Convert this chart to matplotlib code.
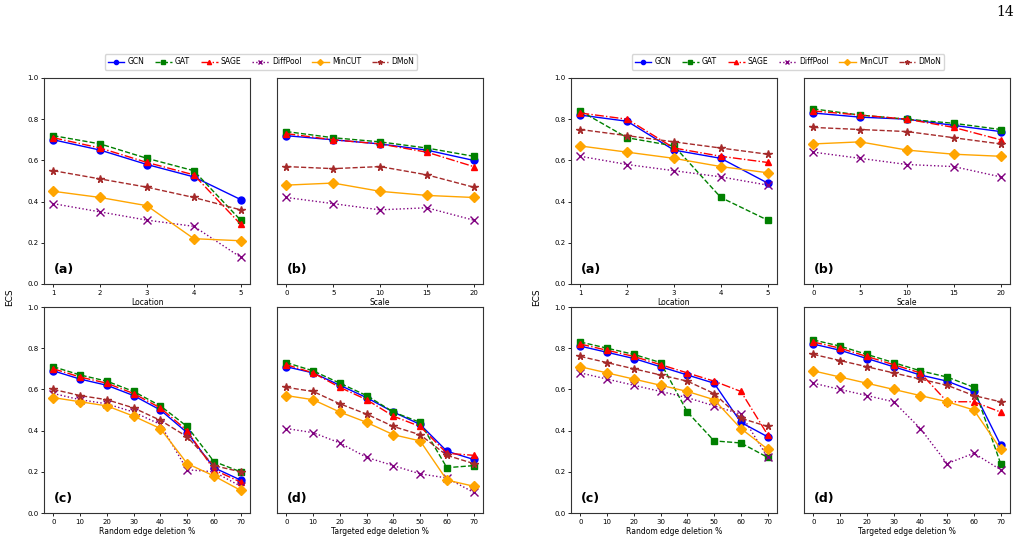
import matplotlib
matplotlib.use("Agg")
import matplotlib.pyplot as plt

# x values of each panel
X_LOC = [1, 2, 3, 4, 5]
X_SCALE = [0, 5, 10, 15, 20]
X_DEL = [0, 10, 20, 30, 40, 50, 60, 70]

# ---- left group ----
L_A_GCN = [0.70, 0.65, 0.58, 0.52, 0.41]
L_A_GAT = [0.72, 0.68, 0.61, 0.55, 0.31]
L_A_SAGE = [0.71, 0.66, 0.59, 0.53, 0.29]
L_A_DIFF = [0.39, 0.35, 0.31, 0.28, 0.13]
L_A_MINCUT = [0.45, 0.42, 0.38, 0.22, 0.21]
L_A_DMON = [0.55, 0.51, 0.47, 0.42, 0.36]

L_B_GCN = [0.72, 0.70, 0.68, 0.65, 0.60]
L_B_GAT = [0.74, 0.71, 0.69, 0.66, 0.62]
L_B_SAGE = [0.73, 0.70, 0.68, 0.64, 0.57]
L_B_DIFF = [0.42, 0.39, 0.36, 0.37, 0.31]
L_B_MINCUT = [0.48, 0.49, 0.45, 0.43, 0.42]
L_B_DMON = [0.57, 0.56, 0.57, 0.53, 0.47]

L_C_GCN = [0.69, 0.65, 0.62, 0.57, 0.50, 0.39, 0.22, 0.16]
L_C_GAT = [0.71, 0.67, 0.64, 0.59, 0.52, 0.42, 0.25, 0.20]
L_C_SAGE = [0.70, 0.66, 0.63, 0.58, 0.51, 0.40, 0.21, 0.15]
L_C_DIFF = [0.58, 0.55, 0.53, 0.49, 0.43, 0.21, 0.20, 0.13]
L_C_MINCUT = [0.56, 0.54, 0.52, 0.47, 0.41, 0.24, 0.18, 0.11]
L_C_DMON = [0.60, 0.57, 0.55, 0.51, 0.45, 0.37, 0.23, 0.20]

L_D_GCN = [0.71, 0.68, 0.62, 0.56, 0.49, 0.43, 0.30, 0.26]
L_D_GAT = [0.73, 0.69, 0.63, 0.57, 0.49, 0.44, 0.22, 0.23]
L_D_SAGE = [0.72, 0.68, 0.61, 0.55, 0.47, 0.42, 0.29, 0.28]
L_D_DIFF = [0.41, 0.39, 0.34, 0.27, 0.23, 0.19, 0.17, 0.10]
L_D_MINCUT = [0.57, 0.55, 0.49, 0.44, 0.38, 0.35, 0.16, 0.13]
L_D_DMON = [0.61, 0.59, 0.53, 0.48, 0.42, 0.38, 0.28, 0.24]

# ---- right group ----
R_A_GCN = [0.82, 0.79, 0.65, 0.61, 0.49]
R_A_GAT = [0.84, 0.71, 0.67, 0.42, 0.31]
R_A_SAGE = [0.83, 0.80, 0.66, 0.62, 0.59]
R_A_DIFF = [0.62, 0.58, 0.55, 0.52, 0.48]
R_A_MINCUT = [0.67, 0.64, 0.61, 0.57, 0.54]
R_A_DMON = [0.75, 0.72, 0.69, 0.66, 0.63]

R_B_GCN = [0.83, 0.81, 0.80, 0.77, 0.74]
R_B_GAT = [0.85, 0.82, 0.80, 0.78, 0.75]
R_B_SAGE = [0.84, 0.82, 0.80, 0.76, 0.70]
R_B_DIFF = [0.64, 0.61, 0.58, 0.57, 0.52]
R_B_MINCUT = [0.68, 0.69, 0.65, 0.63, 0.62]
R_B_DMON = [0.76, 0.75, 0.74, 0.71, 0.68]

R_C_GCN = [0.81, 0.78, 0.75, 0.71, 0.67, 0.63, 0.44, 0.37]
R_C_GAT = [0.83, 0.80, 0.77, 0.73, 0.49, 0.35, 0.34, 0.27]
R_C_SAGE = [0.82, 0.79, 0.76, 0.72, 0.68, 0.64, 0.59, 0.38]
R_C_DIFF = [0.68, 0.65, 0.62, 0.59, 0.56, 0.52, 0.48, 0.27]
R_C_MINCUT = [0.71, 0.68, 0.65, 0.62, 0.59, 0.55, 0.41, 0.31]
R_C_DMON = [0.76, 0.73, 0.70, 0.67, 0.64, 0.58, 0.46, 0.42]

R_D_GCN = [0.82, 0.79, 0.75, 0.71, 0.67, 0.64, 0.59, 0.33]
R_D_GAT = [0.84, 0.81, 0.77, 0.73, 0.69, 0.66, 0.61, 0.24]
R_D_SAGE = [0.83, 0.80, 0.76, 0.72, 0.68, 0.54, 0.54, 0.49]
R_D_DIFF = [0.63, 0.60, 0.57, 0.54, 0.41, 0.24, 0.29, 0.21]
R_D_MINCUT = [0.69, 0.66, 0.63, 0.60, 0.57, 0.54, 0.50, 0.31]
R_D_DMON = [0.77, 0.74, 0.71, 0.68, 0.65, 0.62, 0.57, 0.54]

MODELS = ["GCN", "GAT", "SAGE", "DiffPool", "MinCUT", "DMoN"]
STYLES = {
    "GCN": dict(color="blue", marker="o", linestyle="-"),
    "GAT": dict(color="green", marker="s", linestyle="--"),
    "SAGE": dict(color="red", marker="^", linestyle="-."),
    "DiffPool": dict(color="purple", marker="x", linestyle=":"),
    "MinCUT": dict(color="orange", marker="D", linestyle="-"),
    "DMoN": dict(color="brown", marker="*", linestyle="--"),
}

W, H = 1022, 541
fig = plt.figure(figsize=(W / 100, H / 100), dpi=100)


def px_axes(x0, y0, x1, y1):
    # pixel box (top-left origin) -> figure axes
    return fig.add_axes([x0 / W, 1 - y1 / H, (x1 - x0) / W, (y1 - y0) / H])


def draw_panel(ax, x, series, label, xlabel, show_y):
    for name, ys in zip(MODELS, series):
        st = STYLES[name]
        ms = 5.5 if st["marker"] in ("x", "*") else 5
        ax.plot(x, ys, label=name, linewidth=1, markersize=ms, **st)
    ax.set_ylim(0, 1.0)
    ax.set_xticks(x)
    ax.set_yticks([0, 0.2, 0.4, 0.6, 0.8, 1.0])
    ax.tick_params(labelsize=5, length=2, width=0.6, pad=2)
    if not show_y:
        ax.tick_params(axis="y", left=False, labelleft=False)
    ax.set_xlabel(xlabel, fontsize=5.5, labelpad=2)
    ax.text(0.05, 0.04, label, transform=ax.transAxes, fontsize=9,
            fontweight="bold", ha="left", va="bottom")
    for s in ax.spines.values():
        s.set_linewidth(0.8)
        s.set_color("#333333")


groups = [
    (0, [
        (X_LOC, [L_A_GCN, L_A_GAT, L_A_SAGE, L_A_DIFF, L_A_MINCUT, L_A_DMON]),
        (X_SCALE, [L_B_GCN, L_B_GAT, L_B_SAGE, L_B_DIFF, L_B_MINCUT, L_B_DMON]),
        (X_DEL, [L_C_GCN, L_C_GAT, L_C_SAGE, L_C_DIFF, L_C_MINCUT, L_C_DMON]),
        (X_DEL, [L_D_GCN, L_D_GAT, L_D_SAGE, L_D_DIFF, L_D_MINCUT, L_D_DMON]),
    ]),
    (527, [
        (X_LOC, [R_A_GCN, R_A_GAT, R_A_SAGE, R_A_DIFF, R_A_MINCUT, R_A_DMON]),
        (X_SCALE, [R_B_GCN, R_B_GAT, R_B_SAGE, R_B_DIFF, R_B_MINCUT, R_B_DMON]),
        (X_DEL, [R_C_GCN, R_C_GAT, R_C_SAGE, R_C_DIFF, R_C_MINCUT, R_C_DMON]),
        (X_DEL, [R_D_GCN, R_D_GAT, R_D_SAGE, R_D_DIFF, R_D_MINCUT, R_D_DMON]),
    ]),
]

labels = ["(a)", "(b)", "(c)", "(d)"]
xlabels = ["Location", "Scale", "Random edge deletion %", "Targeted edge deletion %"]
cols = [(44, 250), (277, 483)]
rows = [(78, 284), (307, 513)]

for off, panels in groups:
    first_ax = None
    for i, (x, series) in enumerate(panels):
        r, c = divmod(i, 2)
        ax = px_axes(cols[c][0] + off, rows[r][0], cols[c][1] + off, rows[r][1])
        draw_panel(ax, x, series, labels[i], xlabels[i], c == 0)
        if first_ax is None:
            first_ax = ax
    handles, names = first_ax.get_legend_handles_labels()
    fig.legend(handles, names, loc="center", ncol=6, fontsize=5.5,
               bbox_to_anchor=((261 + off) / W, 1 - 62 / H),
               handlelength=2.2, columnspacing=1.4, handletextpad=0.4,
               borderpad=0.4, markerscale=0.6, fancybox=True)
    fig.text((10 + off) / W, 1 - 297 / H, "ECS", rotation=90, fontsize=6.5,
             ha="center", va="center")

fig.text(1005 / W, 1 - 12 / H, "14", fontsize=10, family="DejaVu Serif",
         ha="center", va="center")

fig.savefig("out.png", dpi=100)
